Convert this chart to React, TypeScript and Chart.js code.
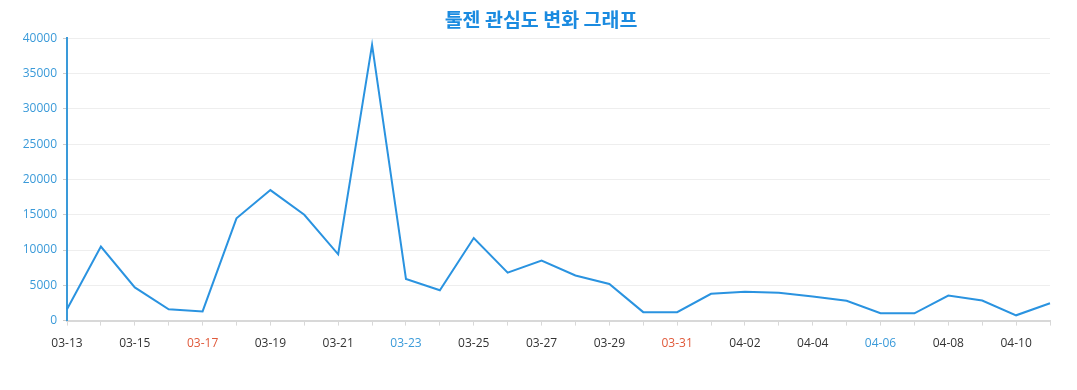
import React, { useEffect, useRef } from "react";
import { Chart, registerables } from "chart.js";

Chart.register(...registerables);

const categories = [
  "03-13", "03-14", "03-15", "03-16", "03-17", "03-18", "03-19", "03-20", "03-21", "03-22",
  "03-23", "03-24", "03-25", "03-26", "03-27", "03-28", "03-29", "03-30", "03-31", "04-01",
  "04-02", "04-03", "04-04", "04-05", "04-06", "04-07", "04-08", "04-09", "04-10", "04-11",
];

const interest = [
  1600, 10500, 4700, 1600, 1300, 14500, 18500, 15000, 9400, 39100,
  5900, 4300, 11700, 6800, 8500, 6400, 5200, 1200, 1200, 3800,
  4100, 3950, 3400, 2800, 1050, 1030, 3550, 2850, 750, 2450,
];

const sundays = ["03-17", "03-24", "03-31", "04-07"];
const saturdays = ["03-16", "03-23", "03-30", "04-06"];

const titleText = "툴젠 관심도 변화 그래프";

export default function App() {
  const canvasRef = useRef<HTMLCanvasElement | null>(null);

  useEffect(() => {
    if (!canvasRef.current) return;
    const chart = new Chart(canvasRef.current, {
      type: "line",
      data: {
        labels: categories,
        datasets: [
          {
            label: "관심도",
            data: interest,
            borderColor: "#2a93e0",
            backgroundColor: "#2a93e0",
            borderWidth: 2,
            pointRadius: 0,
            tension: 0,
            fill: false,
            yAxisID: "y",
          },
        ],
      },
      options: {
        animation: false,
        responsive: true,
        maintainAspectRatio: false,
        layout: { padding: { left: 5, right: 0, top: 0, bottom: 28 } },
        plugins: {
          legend: { display: false },
          tooltip: { enabled: false },
          title: {
            display: true,
            text: titleText,
            color: "#1b8be0",
            font: { family: "'Noto Sans CJK KR', 'Noto Sans', sans-serif", size: 19.5, weight: "bold" },
            padding: { top: 8, bottom: 7 },
          },
        },
        scales: {
          x: {
            type: "category",
            offset: false,
            grid: {
              display: true,
              drawOnChartArea: false,
              drawTicks: true,
              tickLength: 5,
              tickColor: "#d8d8d8",
            },
            border: { display: true, color: "#d8d8d8", width: 2 },
            ticks: {
              autoSkip: false,
              maxRotation: 0,
              padding: 11,
              font: { family: "'Open Sans', 'Noto Sans', sans-serif", size: 12 },
              color: (ctx: any) => {
                const lbl = categories[ctx.index];
                if (sundays.includes(lbl)) return "#e0593a";
                if (saturdays.includes(lbl)) return "#3a9ad9";
                return "#333333";
              },
              callback: (_v: any, i: number) => (i % 2 === 0 ? categories[i] : ""),
            },
          },
          y: {
            position: "left",
            min: 0,
            max: 40000,
            ticks: {
              stepSize: 5000,
              padding: 6,
              color: "#3a9ad9",
              font: { family: "'Open Sans', 'Noto Sans', sans-serif", size: 12 },
              callback: (v: any) => String(v),
            },
            grid: {
              color: "#eeeeee",
              lineWidth: 1,
              drawTicks: true,
              tickLength: 4,
              tickColor: "#cccccc",
            },
            border: { display: true, color: "#3a9ad9", width: 2 },
            afterFit: (scale: any) => {
              scale.width = 62;
            },
          },
          ySpacer: {
            position: "right",
            display: true,
            min: 0,
            max: 40000,
            grid: { display: false, drawTicks: false },
            border: { display: false },
            ticks: { display: false },
            afterFit: (scale: any) => {
              scale.width = 27;
            },
          },
        },
      },
    });
    return () => chart.destroy();
  }, []);

  return (
    <div style={{ position: "fixed", left: 0, top: 0, width: 1077, height: 390, background: "#fff" }}>
      <canvas ref={canvasRef} />
    </div>
  );
}
